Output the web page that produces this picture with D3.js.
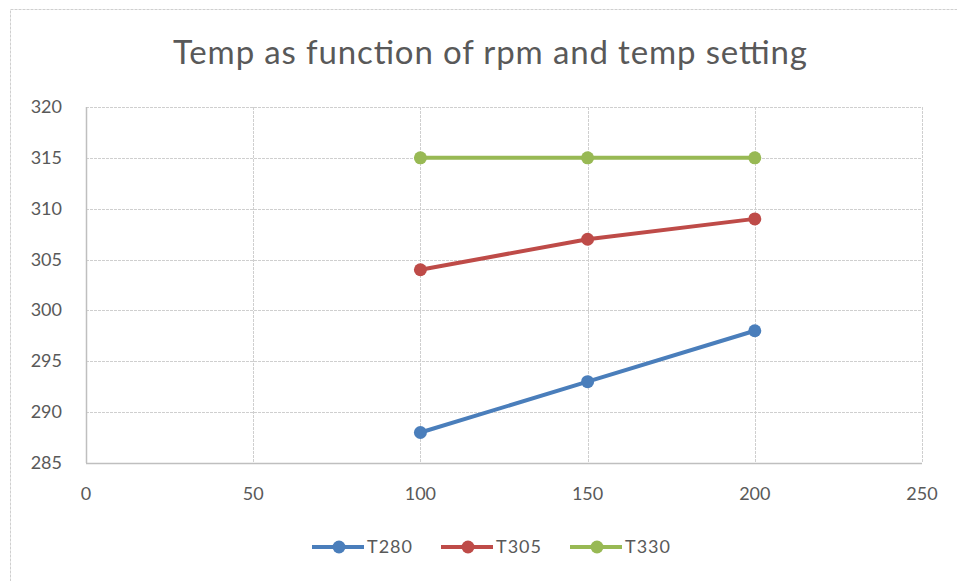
<!DOCTYPE html>
<html>
<head>
<meta charset="utf-8">
<script src="https://cdn.jsdelivr.net/npm/d3@7"></script>
<style>
    body { margin: 0; background: #fff; }
    svg { display: block; }
</style>
</head>
<body>
<svg id="chart" width="957" height="581"></svg>
<script>
// Chart data
const rpm = [100, 150, 200];
const seriesNames = ["T280", "T305", "T330"];
const t280 = [288, 293, 298];
const t305 = [304, 307, 309];
const t330 = [315, 315, 315];
const xTicks = [0, 50, 100, 150, 200, 250];
const yTicks = [285, 290, 295, 300, 305, 310, 315, 320];
const colors = ["#4a7ebb", "#be4b48", "#98b954"];

const svg = d3.select("#chart");
const width = +svg.attr("width");
const height = +svg.attr("height");

// Plot area
const plot = { left: 86, right: 922, top: 107, bottom: 463 };
const fontFamily = "Lato, 'Open Sans', sans-serif";
const textColor = "#595959";
const gridColor = "#cfcfcf";

// Outer chart border
svg.append("rect")
    .attr("x", 10.5)
    .attr("y", 9.5)
    .attr("width", width)
    .attr("height", height)
    .attr("fill", "none")
    .attr("stroke", gridColor)
    .attr("stroke-dasharray", "3,1");

// Scales
const x = d3.scaleLinear().domain([0, 250]).range([plot.left, plot.right]);
const y = d3.scaleLinear().domain([285, 320]).range([plot.bottom, plot.top]);

// Title
svg.append("text")
    .attr("x", 490)
    .attr("y", 64)
    .attr("text-anchor", "middle")
    .attr("font-family", fontFamily)
    .attr("font-size", 33)
    .attr("textLength", 634)
    .attr("lengthAdjust", "spacing")
    .attr("fill", textColor)
    .text("Temp as function of rpm and temp setting");

// Gridlines
const grid = svg.append("g").attr("id", "grid");
grid.selectAll(".hgrid")
    .data(yTicks.slice(1))
    .enter()
    .append("line")
    .attr("x1", plot.left)
    .attr("x2", plot.right)
    .attr("y1", (d) => Math.round(y(d)) + 0.5)
    .attr("y2", (d) => Math.round(y(d)) + 0.5)
    .attr("stroke", gridColor)
    .attr("stroke-dasharray", "3,1");
grid.selectAll(".vgrid")
    .data(xTicks.slice(1))
    .enter()
    .append("line")
    .attr("x1", (d) => Math.round(x(d)) + 0.5)
    .attr("x2", (d) => Math.round(x(d)) + 0.5)
    .attr("y1", plot.top)
    .attr("y2", plot.bottom)
    .attr("stroke", gridColor)
    .attr("stroke-dasharray", "3,1");

// Axis lines
svg.append("line")
    .attr("x1", plot.left + 0.5).attr("x2", plot.left + 0.5)
    .attr("y1", plot.top).attr("y2", plot.bottom)
    .attr("stroke", "#bfbfbf").attr("stroke-width", 1.5);
svg.append("line")
    .attr("x1", plot.left).attr("x2", plot.right)
    .attr("y1", plot.bottom + 0.5).attr("y2", plot.bottom + 0.5)
    .attr("stroke", "#bfbfbf").attr("stroke-width", 1.5);

// Tick labels
svg.append("g")
    .selectAll("text")
    .data(yTicks)
    .enter()
    .append("text")
    .attr("x", 62)
    .attr("y", (d) => y(d) + 6)
    .attr("text-anchor", "end")
    .attr("font-family", fontFamily)
    .attr("font-size", 18)
    .attr("fill", textColor)
    .text((d) => d);
svg.append("g")
    .selectAll("text")
    .data(xTicks)
    .enter()
    .append("text")
    .attr("x", (d) => x(d))
    .attr("y", 500)
    .attr("text-anchor", "middle")
    .attr("font-family", fontFamily)
    .attr("font-size", 18)
    .attr("fill", textColor)
    .text((d) => d);

// Series lines and markers
const seriesValues = [t280, t305, t330];
const line = d3.line()
    .x((d) => x(d[0]))
    .y((d) => y(d[1]));

seriesValues.forEach((values, i) => {
    const pts = rpm.map((r, j) => [r, values[j]]);
    const g = svg.append("g").attr("class", "series");
    g.append("path")
        .attr("d", line(pts))
        .attr("fill", "none")
        .attr("stroke", colors[i])
        .attr("stroke-width", 4)
        .attr("stroke-linejoin", "round")
        .attr("stroke-linecap", "round");
    g.selectAll("circle")
        .data(pts)
        .enter()
        .append("circle")
        .attr("cx", (d) => x(d[0]))
        .attr("cy", (d) => y(d[1]))
        .attr("r", 6.5)
        .attr("fill", colors[i]);
});

// Legend
const legendX = [312, 441, 570];
const legend = svg.append("g").attr("id", "legend");
seriesNames.forEach((name, i) => {
    const lx = legendX[i];
    legend.append("line")
        .attr("x1", lx).attr("x2", lx + 52)
        .attr("y1", 547).attr("y2", 547)
        .attr("stroke", colors[i])
        .attr("stroke-width", 4);
    legend.append("circle")
        .attr("cx", lx + 27).attr("cy", 547)
        .attr("r", 6.5)
        .attr("fill", colors[i]);
    legend.append("text")
        .attr("x", lx + 55)
        .attr("y", 553)
        .attr("font-family", fontFamily)
        .attr("font-size", 18)
        .attr("letter-spacing", 1)
        .attr("fill", textColor)
        .text(name);
});
</script>
</body>
</html>
